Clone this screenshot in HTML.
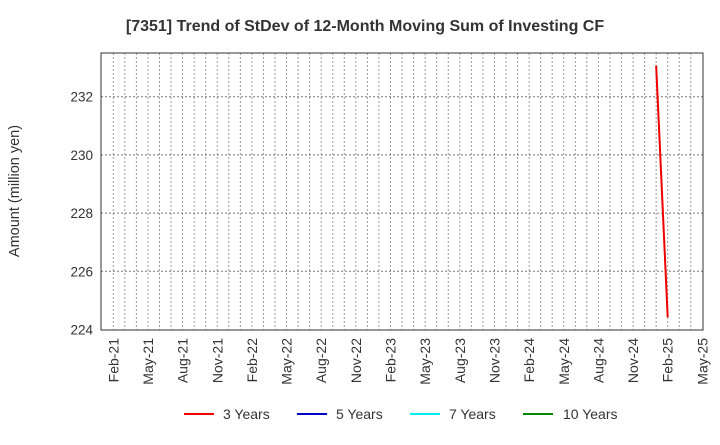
<!DOCTYPE html>
<html><head><meta charset="utf-8"><style>
body{margin:0;background:#fff;font-family:"Liberation Sans",sans-serif}
</style></head><body>
<svg id="chart" width="720" height="440" xmlns="http://www.w3.org/2000/svg" font-family="Liberation Sans, sans-serif">
<text x="365" y="31" text-anchor="middle" font-size="16" font-weight="bold" fill="#333">[7351]  Trend of StDev of 12-Month Moving Sum of Investing CF</text>
<text transform="translate(19,191) rotate(-90)" text-anchor="middle" font-size="14.5" fill="#333">Amount (million yen)</text>
<g id="grid"></g>
<g id="yticks"></g>
<g id="xticks"></g>
<g id="series"></g>
<rect x="101" y="53" width="602" height="277" fill="none" stroke="#333" stroke-width="1"/>
<g font-size="14" fill="#333">
<g><line x1="184" y1="414" x2="214" y2="414" stroke="#e00" stroke-width="2"/><text x="223" y="419">3 Years</text></g>
<g><line x1="297" y1="414" x2="327" y2="414" stroke="#00c" stroke-width="2"/><text x="336" y="419">5 Years</text></g>
<g><line x1="410" y1="414" x2="440" y2="414" stroke="#0ee" stroke-width="2"/><text x="449" y="419">7 Years</text></g>
<g><line x1="523" y1="414" x2="553" y2="414" stroke="#080" stroke-width="2"/><text x="563" y="419">10 Years</text></g>
</g>
</svg>
<script>
const yTicks=[224,226,228,230,232];
const xTickLabels=["Feb-21","May-21","Aug-21","Nov-21","Feb-22","May-22","Aug-22","Nov-22","Feb-23","May-23","Aug-23","Nov-23","Feb-24","May-24","Aug-24","Nov-24","Feb-25","May-25"];
const series3Months=[47,48];
const series3Values=[233.07,224.42];
const NS="http://www.w3.org/2000/svg";
const xS=m=>113.3+m*11.55;
const yS=v=>329.5-(v-224)*29.1;
const grid=document.getElementById('grid'),yt=document.getElementById('yticks'),xt=document.getElementById('xticks'),se=document.getElementById('series');
function mk(t,a,p){const e=document.createElementNS(NS,t);for(const k in a)e.setAttribute(k,a[k]);p.appendChild(e);return e;}
for(let m=0;m<=50;m++){
const l=mk('line',{x1:xS(m),x2:xS(m),y1:53,y2:330,stroke:'#999','stroke-dasharray':'2,2','stroke-width':1},grid);


}
yTicks.forEach(v=>{
if(v>224){const l=mk('line',{x1:101,x2:703,y1:yS(v),y2:yS(v),stroke:'#777','stroke-dasharray':'2,2','stroke-width':1},grid);

}
const t=mk('text',{x:93,y:yS(v)+5,'text-anchor':'end','font-size':13.5,fill:'#333'},yt);
t.textContent=v;


});
xTickLabels.forEach((s,i)=>{
const x=xS(i*3);
const t=mk('text',{transform:`translate(${x+5},338) rotate(-90)`,'text-anchor':'end','font-size':14,fill:'#333'},xt);
t.textContent=s;


});
const p=mk('polyline',{points:series3Months.map((m,i)=>xS(m)+','+yS(series3Values[i])).join(' '),fill:'none',stroke:'#e00','stroke-width':2},se);


</script>
</body></html>
